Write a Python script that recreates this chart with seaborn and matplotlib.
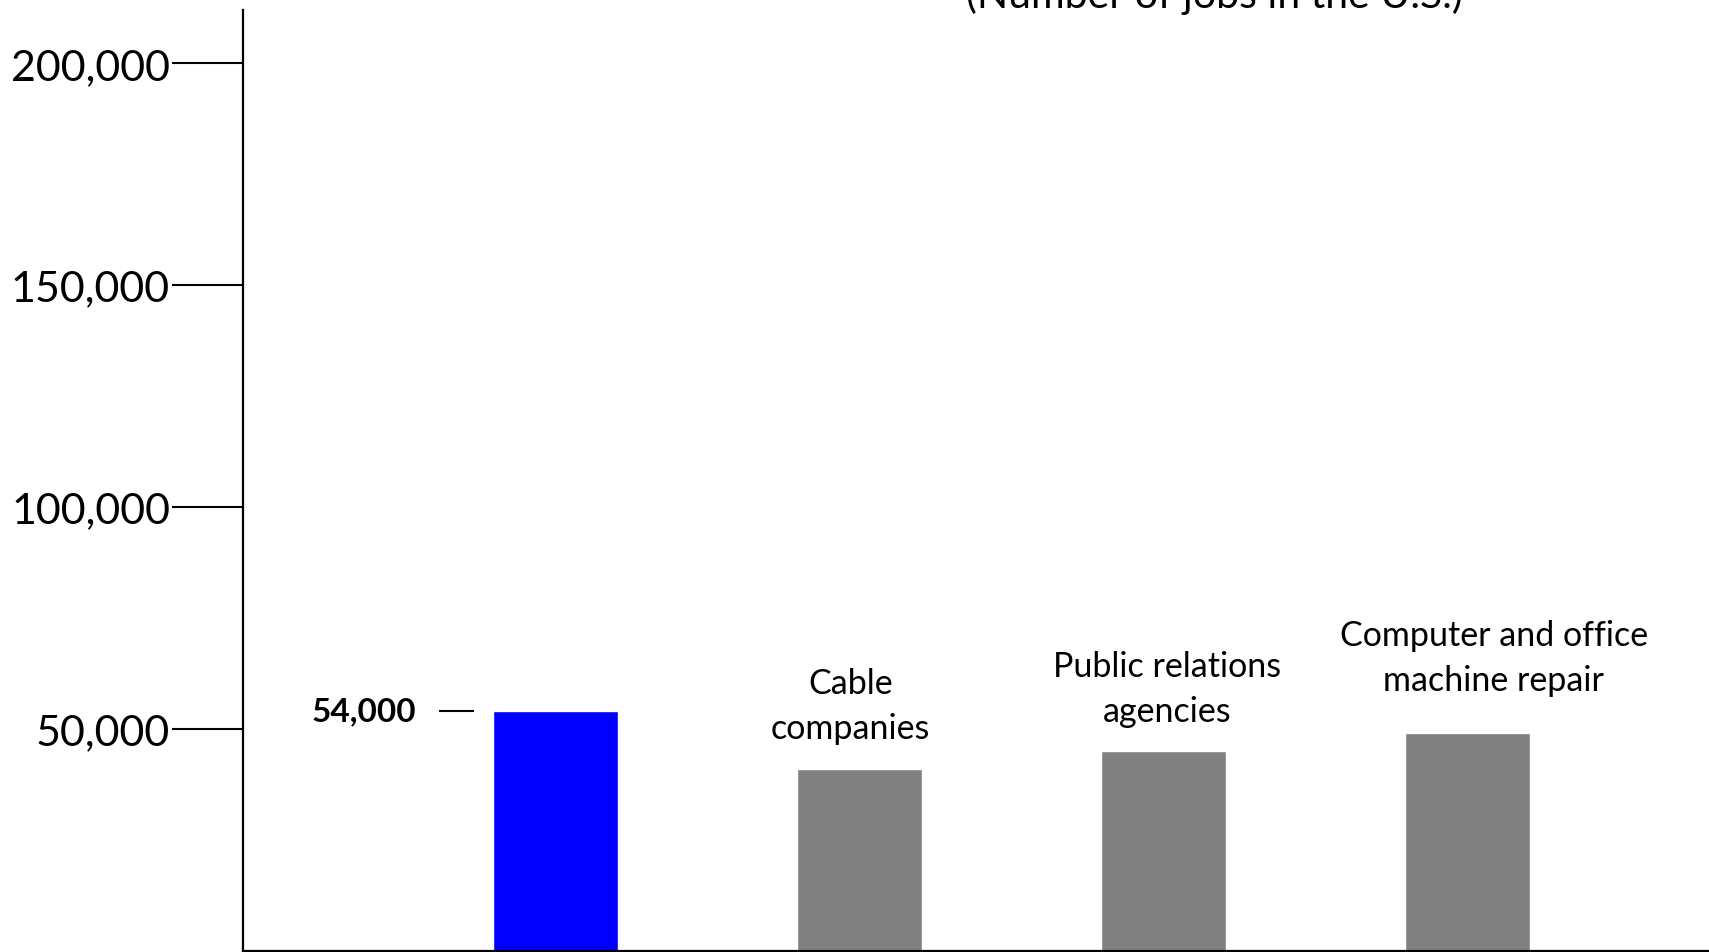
import matplotlib
matplotlib.use("Agg")
import matplotlib.pyplot as plt
import seaborn as sns
import pandas as pd

# Data
industries = ["Video games", "Cable companies", "Public relations agencies",
              "Computer and office machine repair"]
bar_labels = ["", "Cable\ncompanies", "Public relations\nagencies",
              "Computer and office\nmachine repair"]
jobs = [54000, 41000, 45000, 49000]
bar_colors = ["#0000FF", "#808080", "#808080", "#808080"]
y_ticks = [50000, 100000, 150000, 200000]
title_text = "(Number of jobs in the U.S.)"

sns.set_theme(style="white")
plt.rcParams["font.family"] = ["Lato", "DejaVu Sans"]

W, H = 1709, 953
fig = plt.figure(figsize=(W / 100, H / 100), dpi=100)
ax = fig.add_axes([243 / W, 1.5 / H, (W - 243) / W, (951.5 - 11) / H])

df = pd.DataFrame({"industry": industries, "jobs": jobs})
sns.barplot(data=df, x="industry", y="jobs", hue="industry", order=industries,
            hue_order=industries, palette=bar_colors, width=0.41,
            saturation=1, legend=False, ax=ax)

ax.set_xlim(-1.027, 3.794)
ax.set_ylim(0, 212000)
ax.set_xlabel("")
ax.set_ylabel("")
ax.set_xticks([])
ax.set_yticks(y_ticks)
ax.set_yticklabels([f"{t:,}" for t in y_ticks], fontsize=31)
ax.tick_params(axis="y", direction="out", length=51, width=1.5,
               pad=1.5, color="black", labelcolor="black", left=True)

for side in ("top", "right"):
    ax.spines[side].set_visible(False)
for side in ("left", "bottom"):
    ax.spines[side].set_color("black")
    ax.spines[side].set_linewidth(1.6)

# Value callout for the highlighted bar
ax.plot([-0.383, -0.268], [jobs[0], jobs[0]], color="black", lw=1.5,
        solid_capstyle="butt")
ax.text(-0.456, jobs[0], f"{jobs[0]:,}", ha="right", va="center",
        fontsize=24, fontweight="bold", color="black")

# Industry names above the comparison bars
label_dx = [0.0, -0.03, 0.013, 0.086]
label_dy = [0, 18, 17, 27]
for i, (lab, v) in enumerate(zip(bar_labels, jobs)):
    if not lab:
        continue
    ax.annotate(lab, xy=(i + label_dx[i], v), xytext=(0, label_dy[i]),
                textcoords="offset points", ha="center", va="bottom",
                fontsize=24.5, linespacing=1.5, color="black")

# Subtitle sits mostly above the top edge of the canvas
fig.text(1214 / W, 1 - 8 / H, title_text, ha="center", va="baseline",
         fontsize=29.5, color="black")

fig.savefig("out.png", dpi=100, facecolor="white")
